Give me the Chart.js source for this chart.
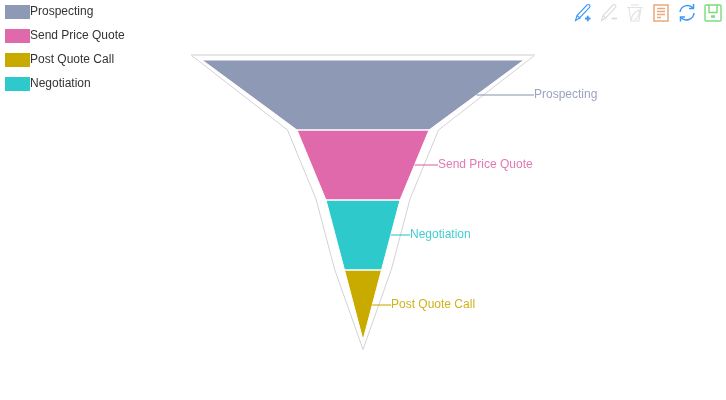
<!DOCTYPE html>
<html><head><meta charset="utf-8">
<style>
html,body{margin:0;padding:0;background:#fff;}
#wrap{position:relative;width:726px;height:400px;}
#toolbox{position:absolute;left:0;top:0;}
</style>
<script src="https://cdn.jsdelivr.net/npm/chart.js@4/dist/chart.umd.min.js"></script>
</head><body>
<div id="wrap"><canvas id="c" width="726" height="400"></canvas>
<svg id="toolbox" width="726" height="30" fill="none" stroke-width="1.100">
 <g stroke="#3E98F5"><path d="M575.500 20.500l1.500-5 10-10.500q1.500-1 2.500 0t0 2.500l-10 10.500z"/><path d="M577 15.500l3.500 3"/><path d="M585 18.500h5.500M587.800 15.800v5.500" stroke-width="1.800"/></g>
 <g stroke="#dcdcdc"><path d="M601.500 20.500l1.500-5 10-10.500q1.500-1 2.500 0t0 2.500l-10 10.500z"/><path d="M603 15.500l3.500 3"/><path d="M611.500 18.500h5.500" stroke-width="1.800"/></g>
 <g stroke="#e2e2e2"><path d="M627 7.500h16M631 5h8M629 8l2 13h8l2-13"/><path d="M631.500 20q0-7 8-10q0 8-5 10"/></g>
 <g stroke="#E8A87C"><rect x="654" y="5" width="14" height="16" stroke-width="1.500"/><path d="M657 8.500h8M657 11.500h8M657 14.500h8M657 17.500h4" stroke-width="1.400"/></g>
 <g stroke="#3E98F5" stroke-width="1.500"><path d="M680 12a7.500 7.500 0 0 1 13-4M694 13a7.500 7.500 0 0 1-13 4.500"/><path d="M693.500 4v4.500H689M680.500 21.500V17h4.500"/></g>
 <g stroke="#7BDB7B" stroke-width="1.400"><rect x="705" y="5" width="16" height="16" rx="1"/><path d="M709 5v7.500h8V5"/><path d="M711 16.500h4" stroke-width="2.500"/></g>
</svg></div>
<script>
// Data
const categories = ['Prospecting', 'Send Price Quote', 'Post Quote Call', 'Negotiation'];
const seriesValues = [100, 41, 11.5, 23];
const seriesColors = ['#8E9AB5', '#DF69AB', '#C9AB00', '#2EC9CB'];
const outlineWidths = [106.8, 46.9, 29.2, 17.7, 0];
const outlineRanks = [-0.071, 1, 1.986, 2.986, 4.136];

const ranking = categories.map((_, i) => i).sort((a, b) => seriesValues[b] - seriesValues[a]);
function trapezoid(i) {
  const r = ranking.indexOf(i);
  const top = seriesValues[i];
  const bottom = r + 1 < ranking.length ? seriesValues[ranking[r + 1]] : 0;
  return [
    {x: -top / 2, y: r}, {x: top / 2, y: r},
    {x: bottom / 2, y: r + 1}, {x: -bottom / 2, y: r + 1},
    {x: -top / 2, y: r}
  ];
}
const outlineLeft = outlineWidths.map((w, i) => ({x: -w / 2, y: outlineRanks[i]}));
const outlineRight = outlineWidths.map((w, i) => ({x: w / 2, y: outlineRanks[i]}));

const datasets = categories.map((label, i) => ({
  label, data: trapezoid(i), backgroundColor: seriesColors[i],
  borderColor: '#ffffff', borderWidth: 1, showLine: true, pointRadius: 0, fill: false,
  isFunnel: true, seriesIndex: i
}));
datasets.push({label: 'outline', data: outlineLeft.slice().reverse().concat(outlineRight),
  borderColor: '#d2d2d2', borderWidth: 1, showLine: true, pointRadius: 0, fill: false, order: 5});
datasets.push({label: 'outlineTop', data: [outlineLeft[0], outlineRight[0]],
  borderColor: '#e6e6e6', borderWidth: 2, showLine: true, pointRadius: 0, fill: false, order: 4});

const funnelPlugin = {
  id: 'funnel',
  beforeDatasetsDraw(chart) {
    const ctx = chart.ctx;
    chart.data.datasets.forEach((d, di) => {
      if (!d.isFunnel) return;
      const pts = chart.getDatasetMeta(di).data;
      ctx.save();
      ctx.beginPath();
      pts.forEach((p, k) => k ? ctx.lineTo(p.x, p.y) : ctx.moveTo(p.x, p.y));
      ctx.closePath();
      ctx.fillStyle = d.backgroundColor;
      ctx.fill();
      ctx.restore();
    });
  },
  afterDatasetsDraw(chart) {
    const ctx = chart.ctx, xs = chart.scales.x, ys = chart.scales.y;
    ranking.forEach((i, r) => {
      const next = r + 1 < ranking.length ? seriesValues[ranking[r + 1]] : 0;
      const y = Math.round(ys.getPixelForValue(r + 0.5));
      const x0 = xs.getPixelForValue((seriesValues[i] + next) / 4);
      const x1 = Math.floor(xs.getPixelForValue(outlineWidths[r] / 2));
      ctx.save();
      ctx.strokeStyle = seriesColors[i];
      ctx.globalAlpha = 0.55;
      ctx.lineWidth = 2;
      ctx.beginPath(); ctx.moveTo(x0, y); ctx.lineTo(x1, y); ctx.stroke();
      ctx.globalAlpha = 0.9;
      ctx.fillStyle = seriesColors[i];
      ctx.font = '12px "Liberation Sans"';
      ctx.textBaseline = 'middle';
      ctx.fillText(categories[i], x1, y);
      ctx.restore();
    });
  },
  afterLayout(chart) {
    chart.legend.left = -1;
    chart.legend.top = -6;
    chart.legend.bottom = 200;
  }
};

new Chart(document.getElementById('c'), {
  type: 'scatter',
  data: {datasets},
  plugins: [funnelPlugin],
  options: {
    responsive: false, animation: false, clip: false,
    layout: {padding: {left: 0, right: 132, top: 0, bottom: 0}},
    scales: {
      x: {type: 'linear', display: false, min: -71.74, max: 71.74},
      y: {type: 'linear', display: false, reverse: true, min: -0.857, max: 4.857}
    },
    plugins: {
      tooltip: {enabled: false},
      legend: {
        position: 'left', align: 'start', maxWidth: 132,
        labels: {
          font: {family: '"Liberation Sans"', size: 12}, color: '#333333',
          boxWidth: 13, boxHeight: 2, padding: 12,
          filter: item => item.text !== 'outline' && item.text !== 'outlineTop',
          generateLabels(chart) {
            return chart.data.datasets.map((d, i) => ({
              text: d.label, fillStyle: d.backgroundColor, strokeStyle: d.backgroundColor,
              lineWidth: 12, datasetIndex: i, fontColor: '#333333', hidden: false
            }));
          }
        }
      }
    }
  }
});
</script>
</body></html>
